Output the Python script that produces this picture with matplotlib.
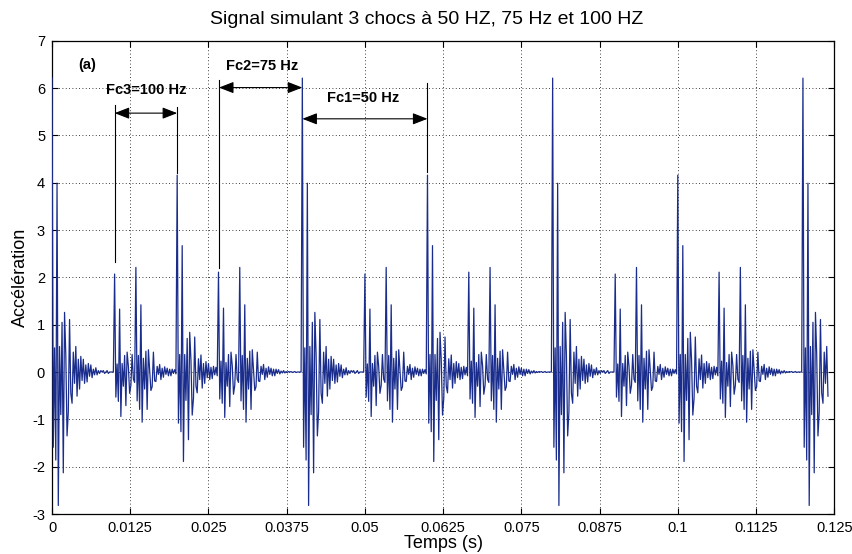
import numpy as np
import matplotlib
matplotlib.use("Agg")
import matplotlib.pyplot as plt

# ---- data -------------------------------------------------------------
fs = 5000.0                      # sampling rate (Hz)
t_end = 0.124                    # record length (s)
shock_freqs = [50, 75, 100]      # Fc1, Fc2, Fc3 (Hz)
shock_amp = [1.0, 1.0, 1.0]

# response of one shock, one value per sample
shock_response = [
    2.07, -0.53, 0.17, -0.62, 1.33, -0.94, 0.18, -0.30, 0.35, -0.71,
    0.42, 0.12, -0.45, -0.28, 0.37, -0.15, -0.22, 0.14, -0.08, 0.18,
    -0.17, 0.09, -0.12, 0.11, -0.06, 0.09, -0.08, 0.05, -0.07, 0.06,
    -0.03, 0.05, -0.04, 0.02, -0.02, 0.03, -0.02, 0.01, -0.01, 0.01,
    0.00, 0.01, -0.01, 0.00, 0.01, -0.01, 0.00, 0.00,
]

xticks = [0, 0.0125, 0.025, 0.0375, 0.05, 0.0625, 0.075, 0.0875,
          0.1, 0.1125, 0.125]
xticklabels = ["0", "0.0125", "0.025", "0.0375", "0.05", "0.0625",
               "0.075", "0.0875", "0.1", "0.1125", "0.125"]
yticks = [-3, -2, -1, 0, 1, 2, 3, 4, 5, 6, 7]

# ---- build the signal --------------------------------------------------
n = int(round(t_end * fs)) + 1
t = np.arange(n) / fs
h = np.asarray(shock_response)
x = np.zeros(n + len(h))
for f, a in zip(shock_freqs, shock_amp):
    k = 0
    while True:
        i0 = int(round(k * fs / f))
        if i0 >= n:
            break
        x[i0:i0 + len(h)] += a * h
        k += 1
x = x[:n]

plt.rcParams["font.family"] = ["Liberation Sans", "DejaVu Sans"]
plt.rcParams["axes.unicode_minus"] = False

# ---- figure ------------------------------------------------------------
fig = plt.figure(figsize=(8.53, 5.54), dpi=100)
ax = fig.add_axes([0.061, 0.0722, 0.917, 0.8543])

ax.plot(t, x, color="#1a2d8c", lw=0.9, zorder=3)

ax.set_xlim(0, 0.125)
ax.set_ylim(-3, 7)
ax.set_xticks(xticks)
ax.set_xticklabels(xticklabels)
ax.set_yticks(yticks)
ax.tick_params(direction="in", top=True, right=True, labelsize=10.5,
               length=4, width=0.8, pad=5)
ax.grid(True, color="black", linestyle=(0, (1, 3)), linewidth=0.6)
for s in ax.spines.values():
    s.set_linewidth(0.9)

fig.text(0.5, 1 - 20 / 554, "Signal simulant 3 chocs à 50 HZ, 75 Hz et 100 HZ",
         fontsize=14, ha="center", va="center")
ax.set_xlabel("Temps (s)", fontsize=13, labelpad=0)
ax.set_ylabel("Accélération", fontsize=13, labelpad=2)

# ---- annotations -------------------------------------------------------
bold = dict(fontsize=10.5, fontweight="bold", ha="center", va="center")
ax.text(0.0056, 6.49, "(a)", **bold)
ax.text(0.0150, 5.96, "Fc3=100 Hz", **bold)
ax.text(0.0335, 6.47, "Fc2=75 Hz", **bold)
ax.text(0.0497, 5.79, "Fc1=50 Hz", **bold)

lk = dict(color="black", lw=0.8)
ax.plot([0.01, 0.01], [2.33, 5.64], **lk)
ax.plot([0.02, 0.02], [4.20, 5.60], **lk)
ax.plot([0.02667, 0.02667], [2.20, 6.17], **lk)
ax.plot([0.06, 0.06], [4.23, 6.11], **lk)

arr = dict(arrowstyle="<|-|>,head_length=0.9,head_width=0.35",
           color="black", lw=0.8, shrinkA=0, shrinkB=0)
ax.annotate("", xy=(0.01, 5.47), xytext=(0.02, 5.47), arrowprops=arr)
ax.annotate("", xy=(0.02667, 6.01), xytext=(0.04, 6.01), arrowprops=arr)
ax.annotate("", xy=(0.04, 5.35), xytext=(0.06, 5.35), arrowprops=arr)

fig.savefig("out.png", dpi=100)
